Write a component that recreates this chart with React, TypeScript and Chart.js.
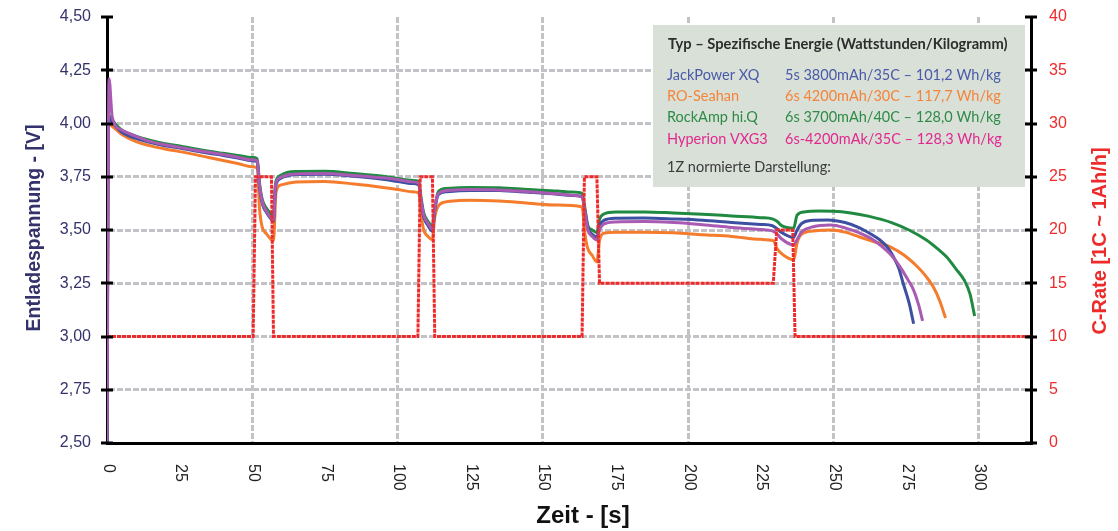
import React, { useEffect, useRef } from "react";
import { Chart, registerables } from "chart.js";

Chart.register(...registerables);

// ---------- DATA ----------
const xTickValues = [0, 25, 50, 75, 100, 125, 150, 175, 200, 225, 250, 275, 300];

const timeJack = [0, 0.5, 1.5, 5, 10, 15, 20, 25, 30, 35, 40, 45, 50, 51.7, 52.5, 53.5, 55, 56.5, 57.3, 58, 59.5, 62, 65, 75, 85, 95, 100, 105, 107.3, 108, 109, 110.5, 112, 112.8, 114, 117, 125, 135, 145, 155, 160, 163.5, 164.5, 165.5, 167, 168.6, 169.5, 171, 175, 185, 195, 205, 215, 225, 229, 230.7, 232, 236.3, 237.5, 239, 242, 248, 254, 259, 263, 266, 268.5, 270.7, 272.5, 274, 276, 277.6];
const voltJack = [2.5, 4.03, 4.01, 3.96, 3.93, 3.91, 3.895, 3.885, 3.872, 3.86, 3.85, 3.838, 3.825, 3.82, 3.7, 3.62, 3.58, 3.55, 3.54, 3.7, 3.74, 3.755, 3.76, 3.762, 3.752, 3.738, 3.728, 3.718, 3.712, 3.64, 3.56, 3.52, 3.495, 3.59, 3.665, 3.68, 3.686, 3.685, 3.677, 3.668, 3.662, 3.656, 3.59, 3.51, 3.48, 3.467, 3.52, 3.545, 3.555, 3.556, 3.552, 3.546, 3.535, 3.526, 3.52, 3.505, 3.49, 3.465, 3.5, 3.53, 3.545, 3.547, 3.535, 3.51, 3.48, 3.453, 3.42, 3.373, 3.32, 3.25, 3.16, 3.06];

const timeSeahan = [0, 0.5, 1.5, 5, 10, 15, 20, 25, 30, 35, 40, 45, 50, 51.7, 52.5, 53.3, 55, 56.5, 57.3, 58.2, 60, 65, 75, 85, 95, 100, 105, 107.3, 108, 109, 110.5, 112, 112.8, 114.5, 118, 125, 135, 145, 155, 163.5, 164.5, 165.3, 167, 168.6, 169.5, 171, 175, 185, 195, 205, 215, 225, 229.3, 230.7, 233, 236.3, 237.5, 239, 243, 249, 254, 259, 264, 269.7, 274.5, 279, 282, 284.5, 286.5, 288.6];
const voltSeahan = [2.5, 4.0, 3.99, 3.95, 3.915, 3.895, 3.88, 3.868, 3.855, 3.84, 3.826, 3.812, 3.797, 3.79, 3.6, 3.52, 3.48, 3.455, 3.45, 3.68, 3.712, 3.725, 3.728, 3.716, 3.7, 3.69, 3.68, 3.674, 3.58, 3.5, 3.47, 3.455, 3.56, 3.62, 3.635, 3.64, 3.636, 3.626, 3.617, 3.608, 3.48, 3.42, 3.38, 3.35, 3.45, 3.485, 3.49, 3.49, 3.487, 3.478, 3.47, 3.456, 3.45, 3.41, 3.38, 3.36, 3.44, 3.48, 3.495, 3.5, 3.49, 3.467, 3.445, 3.42, 3.38, 3.326, 3.28, 3.23, 3.17, 3.087];

const timeRock = [0, 0.5, 1.5, 5, 10, 15, 20, 25, 30, 35, 40, 45, 50, 51.7, 52.5, 53.5, 55, 56.5, 57.3, 58, 59.5, 62, 65, 75, 85, 95, 100, 105, 107.3, 108, 109, 110.5, 112, 112.8, 114, 117, 125, 135, 145, 155, 160, 163.5, 164.5, 165.5, 167, 168.6, 169.5, 171, 175, 185, 195, 205, 215, 225, 229, 230.7, 232, 236.3, 237.5, 240, 245, 250, 256, 262, 270, 276, 282, 286, 289, 292, 295, 297, 298.6];
const voltRock = [2.5, 4.04, 4.02, 3.97, 3.94, 3.92, 3.905, 3.895, 3.882, 3.87, 3.86, 3.85, 3.84, 3.835, 3.72, 3.64, 3.6, 3.575, 3.565, 3.72, 3.755, 3.77, 3.775, 3.776, 3.765, 3.752, 3.742, 3.733, 3.728, 3.66, 3.58, 3.54, 3.52, 3.6, 3.68, 3.695, 3.7, 3.698, 3.69, 3.683, 3.678, 3.672, 3.6, 3.52, 3.5, 3.488, 3.55, 3.575, 3.585, 3.585, 3.58, 3.574, 3.566, 3.558, 3.552, 3.54, 3.522, 3.508, 3.57, 3.585, 3.589, 3.588, 3.58, 3.565, 3.535, 3.5, 3.453, 3.41, 3.373, 3.32, 3.265, 3.2, 3.096];

const timeHyperion = [0, 0.7, 1.8, 5, 10, 15, 20, 25, 30, 35, 40, 45, 50, 51.7, 52.5, 53.5, 55, 56.5, 57.3, 58, 59.5, 62, 65, 75, 85, 95, 100, 105, 107.3, 108, 109, 110.5, 112, 112.8, 114, 117, 125, 135, 145, 155, 160, 163.5, 164.5, 165.5, 167, 168.6, 169.5, 171, 175, 185, 195, 205, 215, 225, 229, 230.7, 232, 236.3, 237.5, 239, 243, 249, 254, 259, 263, 266, 270, 273, 275.5, 277.6, 279.3, 280.7];
const voltHyperion = [2.5, 4.21, 4.03, 3.97, 3.94, 3.915, 3.9, 3.888, 3.876, 3.865, 3.854, 3.842, 3.83, 3.825, 3.71, 3.63, 3.585, 3.555, 3.547, 3.71, 3.745, 3.758, 3.763, 3.765, 3.756, 3.745, 3.737, 3.726, 3.72, 3.65, 3.57, 3.53, 3.505, 3.6, 3.67, 3.685, 3.69, 3.688, 3.68, 3.67, 3.663, 3.656, 3.585, 3.5, 3.47, 3.453, 3.5, 3.528, 3.538, 3.54, 3.535, 3.525, 3.512, 3.502, 3.496, 3.48, 3.46, 3.43, 3.455, 3.49, 3.515, 3.523, 3.51, 3.486, 3.46, 3.43, 3.38, 3.326, 3.27, 3.218, 3.15, 3.073];

const timeCRate = [0, 50.3, 51.1, 56.6, 57.3, 107, 107.8, 112, 112.8, 163.5, 164.3, 168.6, 169.5, 229.3, 230.5, 236, 236.8, 318];
const valueCRate = [10, 10, 25, 25, 10, 10, 25, 25, 10, 10, 25, 25, 15, 15, 20, 20, 10, 10];

const seriesNames = ["JackPower XQ", "RO-Seahan", "RockAmp hi.Q", "Hyperion VXG3"];
const seriesSpecs = [
  "5s 3800mAh/35C – 101,2 Wh/kg",
  "6s 4200mAh/30C – 117,7 Wh/kg",
  "6s 3700mAh/40C – 128,0 Wh/kg",
  "6s-4200mAk/35C – 128,3 Wh/kg",
];
const legendTitle = "Typ – Spezifische Energie (Wattstunden/Kilogramm)";
const legendFoot = "1Z normierte Darstellung:";
const yTitle = "Entladespannung - [V]";
const y2Title = "C-Rate [1C ~ 1Ah/h]";
const xTitle = "Zeit - [s]";

// ---------- STYLE ----------
const lineColors = ["#3d4fa0", "#f57c2c", "#1f8a40", "#a95ab2"];
const textColors = ["#4a5aa8", "#f5843a", "#2e8b47", "#e2288f"];
const red = "#ee2b2b";
const gridGray = "#c2c2c7";
const navy = "#33326b";
const FONT = "'Liberation Sans', Arial, sans-serif";
const LFONT = "Lato, 'Open Sans', sans-serif";

const toPoints = (t: number[], v: number[]) => t.map((x, i) => ({ x, y: v[i] }));

const overlay = {
  id: "overlay",
  beforeDatasetsDraw(chart: any) {
    const ctx = chart.ctx;
    const a = chart.chartArea;
    ctx.save();
    const bx = a.right - 378;
    const by = a.top + 8;
    ctx.fillStyle = "#d8e0d8";
    ctx.fillRect(bx, by, 372, 162);
    ctx.textBaseline = "alphabetic";
    ctx.textAlign = "left";
    ctx.fillStyle = "#2d2d2d";
    ctx.font = `bold 14.7px ${LFONT}`;
    ctx.fillText(legendTitle, bx + 15, by + 24);
    ctx.font = `14.5px ${LFONT}`;
    for (let i = 0; i < seriesNames.length; i++) {
      ctx.fillStyle = textColors[i];
      const yy = by + 55 + i * 21.2;
      ctx.fillText(seriesNames[i], bx + 14, yy);
      ctx.fillText(seriesSpecs[i], bx + 132, yy);
    }
    ctx.fillStyle = "#3a3a3a";
    ctx.fillText(legendFoot, bx + 14, by + 147);
    ctx.restore();
  },
  afterDraw(chart: any) {
    const ctx = chart.ctx;
    const a = chart.chartArea;
    const sy = chart.scales.y;
    const sy2 = chart.scales.y2;
    const sx = chart.scales.x;
    ctx.save();
    // tick marks crossing both vertical axes
    ctx.strokeStyle = "#000";
    ctx.lineWidth = 3;
    sy.ticks.forEach((t: any) => {
      const p = Math.round(sy.getPixelForValue(t.value));
      ctx.beginPath();
      ctx.moveTo(a.left - 6, p);
      ctx.lineTo(a.left + 6, p);
      ctx.stroke();
    });
    sy2.ticks.forEach((t: any) => {
      const p = Math.round(sy2.getPixelForValue(t.value));
      ctx.beginPath();
      ctx.moveTo(a.right - 6, p);
      ctx.lineTo(a.right + 6, p);
      ctx.stroke();
    });
    // rotated x tick labels (clockwise)
    ctx.fillStyle = "#222";
    ctx.font = `16px ${FONT}`;
    ctx.textAlign = "left";
    ctx.textBaseline = "middle";
    xTickValues.forEach((v) => {
      const px = sx.getPixelForValue(v);
      ctx.save();
      ctx.translate(px + 1, a.bottom + 21);
      ctx.rotate(Math.PI / 2);
      ctx.fillText(String(v), 0, 0);
      ctx.restore();
    });
    // axis titles
    ctx.font = `bold 24px ${FONT}`;
    ctx.fillStyle = "#111";
    ctx.textAlign = "center";
    ctx.textBaseline = "alphabetic";
    ctx.fillText(xTitle, (a.left + a.right) / 2 + 14, a.bottom + 80);

    ctx.font = `bold 19.5px ${FONT}`;
    ctx.fillStyle = navy;
    ctx.textBaseline = "middle";
    ctx.save();
    ctx.translate(a.left - 72, (a.top + a.bottom) / 2 - 2);
    ctx.rotate(-Math.PI / 2);
    ctx.fillText(yTitle, 0, 0);
    ctx.restore();

    ctx.font = `bold 20px ${FONT}`;
    ctx.fillStyle = red;
    ctx.save();
    ctx.translate(a.right + 69, (a.top + a.bottom) / 2 + 11);
    ctx.rotate(-Math.PI / 2);
    ctx.fillText(y2Title, 0, 0);
    ctx.restore();
    ctx.restore();
  },
};

export default function App() {
  const ref = useRef<HTMLCanvasElement | null>(null);
  useEffect(() => {
    document.body.style.margin = "0";
    const canvas = ref.current;
    if (!canvas) return;
    const voltageSets = [
      { label: seriesNames[0], data: toPoints(timeJack, voltJack), color: lineColors[0], order: 2 },
      { label: seriesNames[1], data: toPoints(timeSeahan, voltSeahan), color: lineColors[1], order: 4 },
      { label: seriesNames[2], data: toPoints(timeRock, voltRock), color: lineColors[2], order: 3 },
      { label: seriesNames[3], data: toPoints(timeHyperion, voltHyperion), color: lineColors[3], order: 1 },
    ];
    const chart = new Chart(canvas, {
      type: "line",
      data: {
        datasets: [
          {
            label: "C-Rate",
            data: toPoints(timeCRate, valueCRate),
            yAxisID: "y2",
            borderColor: red,
            borderWidth: 3,
            borderDash: [4, 1],
            pointRadius: 0,
            tension: 0,
            order: 0,
          } as any,
          ...voltageSets.map((s) => ({
            label: s.label,
            data: s.data,
            yAxisID: "y",
            borderColor: s.color,
            borderWidth: 3,
            pointRadius: 0,
            cubicInterpolationMode: "monotone",
            order: s.order,
          })),
        ],
      },
      options: {
        responsive: false,
        animation: false,
        devicePixelRatio: 1,
        layout: { padding: { top: 17, left: 0, right: 0, bottom: 0 } },
        plugins: { legend: { display: false }, tooltip: { enabled: false } },
        scales: {
          x: {
            type: "linear",
            min: 0,
            max: 318,
            ticks: { stepSize: 25, includeBounds: false, display: false },
            grid: {
              color: (c: any) =>
                c.tick && c.tick.value % 50 === 0 && c.tick.value !== 0 ? gridGray : "transparent",
              lineWidth: 3,
              drawTicks: false,
            },
            border: { color: "#000", width: 3, dash: [6, 2] },
            afterFit: (s: any) => {
              s.height = 88;
              s.paddingLeft = 0;
              s.paddingRight = 0;
            },
          },
          y: {
            position: "left",
            min: 2.5,
            max: 4.5,
            ticks: {
              stepSize: 0.25,
              padding: 16,
              color: navy,
              font: { family: FONT, size: 16 },
              callback: (v: any) => Number(v).toFixed(2).replace(".", ","),
            },
            grid: {
              color: (c: any) => (c.tick && c.tick.value >= 4.5 ? "transparent" : gridGray),
              lineWidth: 3,
              drawTicks: false,
            },
            border: { color: "#000", width: 3, dash: [6, 2] },
            afterFit: (s: any) => {
              s.width = 107;
              s.paddingTop = 0;
              s.paddingBottom = 0;
            },
          },
          y2: {
            position: "right",
            min: 0,
            max: 40,
            ticks: {
              stepSize: 5,
              padding: 18,
              color: red,
              font: { family: FONT, size: 16 },
            },
            grid: { drawOnChartArea: false, drawTicks: false },
            border: { color: "#000", width: 3 },
            afterFit: (s: any) => {
              s.width = 87;
              s.paddingTop = 0;
              s.paddingBottom = 0;
            },
          },
        },
      },
      plugins: [overlay],
    });
    return () => chart.destroy();
  }, []);
  return (
    <div style={{ width: 1118, height: 531 }}>
      <canvas ref={ref} width={1118} height={531} />
    </div>
  );
}
